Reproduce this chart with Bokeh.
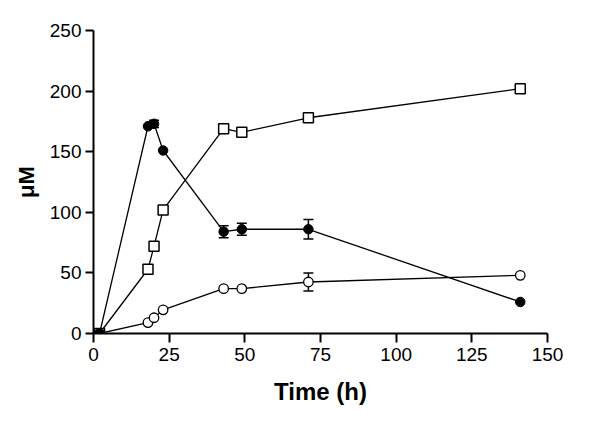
from bokeh.plotting import figure
from bokeh.models import Range1d, Whisker, ColumnDataSource, TeeHead, FixedTicker, Title
from bokeh.embed import file_html
from bokeh.resources import INLINE

# Data
time_h = [2, 18, 20, 23, 43, 49, 71, 141]
filled_circle = [0, 171, 173, 151, 84, 86, 86, 26]
open_square = [0, 53, 72, 102, 169, 166, 178, 202]
open_circle = [0, 9, 13, 19.5, 37, 37, 42.5, 48]

filled_err_t = [20, 43, 49, 71]
filled_err_y = [173, 84, 86, 86]
filled_err = [3, 5, 5, 8]

open_err_t = [71]
open_err_y = [42.5]
open_err = [7.5]

x_ticks = [0, 25, 50, 75, 100, 125, 150]
y_ticks = [0, 50, 100, 150, 200, 250]

p = figure(width=584, height=413, output_backend="svg", toolbar_location=None,
           x_range=Range1d(0, 150), y_range=Range1d(0, 250),
           min_border_left=93, min_border_right=37, min_border_top=30, min_border_bottom=80)
p.outline_line_color = None
p.xgrid.visible = False
p.ygrid.visible = False
p.background_fill_color = "white"

for ax in (p.xaxis[0], p.yaxis[0]):
    ax.axis_line_width = 2
    ax.major_tick_line_width = 2
    ax.minor_tick_line_color = None
    ax.major_tick_in = 0
    ax.major_label_text_font = "Liberation Sans"
    ax.major_label_text_font_size = "19px"
    ax.major_label_text_color = "black"
    ax.axis_label_text_font = "Liberation Sans"
    ax.axis_label_text_font_style = "bold"
    ax.axis_label_text_color = "black"

p.xaxis.ticker = FixedTicker(ticks=x_ticks)
p.yaxis.ticker = FixedTicker(ticks=y_ticks)
p.xaxis.major_tick_out = 9
p.yaxis.major_tick_out = 8
p.xaxis.major_label_standoff = 5
p.yaxis.major_label_standoff = 4
p.xaxis.axis_label = "Time (h)"
p.xaxis.axis_label_text_font_size = "24px"
p.xaxis.axis_label_standoff = 14

ylab = Title(text="\u03bcM", align="center", offset=14, standoff=16,
             text_font="Liberation Sans", text_font_style="bold",
             text_font_size="22px", text_color="black")
p.add_layout(ylab, "left")

lw = 1.3
p.line(time_h, filled_circle, line_color="black", line_width=lw)
p.line(time_h, open_square, line_color="black", line_width=lw)
p.line(time_h, open_circle, line_color="black", line_width=lw)

fsrc = ColumnDataSource(dict(t=filled_err_t,
                             lo=[y - e for y, e in zip(filled_err_y, filled_err)],
                             hi=[y + e for y, e in zip(filled_err_y, filled_err)]))
osrc = ColumnDataSource(dict(t=open_err_t,
                             lo=[y - e for y, e in zip(open_err_y, open_err)],
                             hi=[y + e for y, e in zip(open_err_y, open_err)]))
for src in (fsrc, osrc):
    w = Whisker(source=src, base="t", lower="lo", upper="hi", dimension="height",
                line_color="black", line_width=1.5,
                upper_head=TeeHead(size=10, line_color="black", line_width=1.5),
                lower_head=TeeHead(size=10, line_color="black", line_width=1.5))
    p.add_layout(w)

p.scatter(time_h, open_square, marker="square", size=10, fill_color="white",
          line_color="black", line_width=1.5)
p.scatter(time_h, open_circle, marker="circle", size=9.5, fill_color="white",
          line_color="black", line_width=1.3)
p.scatter(time_h, filled_circle, marker="circle", size=9.5, fill_color="black",
          line_color="black", line_width=1)

open("out.html", "w").write(file_html(p, INLINE))
